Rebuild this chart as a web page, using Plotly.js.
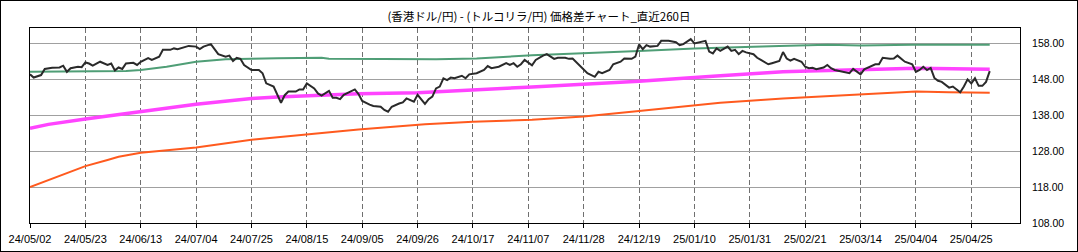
<!DOCTYPE html>
<html><head><meta charset="utf-8">
<script src="https://cdn.plot.ly/plotly-3.0.1.min.js"></script>
<style>
html,body{margin:0;padding:0;background:#fff;}
#wrap{position:absolute;left:0;top:0;width:1076px;height:250px;border:1px solid #000;background:#fff;}
#chart{width:1076px;height:250px;}
</style></head>
<body><div id="wrap"><div id="chart"></div></div>
<script>
// Trading-day index (0 = 24/05/02) and values
const tickIdx = [0,15,30,45,60,75,90,105,120,135,150,165,180,195,210,225,240,255];
const tickLabels = ["24/05/02","24/05/23","24/06/13","24/07/04","24/07/25","24/08/15","24/09/05","24/09/26","24/10/17","24/11/07","24/11/28","24/12/19","25/01/10","25/01/31","25/02/21","25/03/14","25/04/04","25/04/25"];
const yTicks = [108,118,128,138,148,158];

const priceX = [0,1,3,4,6,8,9,10,11,13,14,15,16,17,19,21,22,23,24,25,26,28,29,30,32,33,35,36,38,39,40,42,43,45,46,47,49,51,53,54,55,56,57,58,60,62,63,64,66,68,69,70,72,73,74,75,77,78,79,81,82,83,84,85,87,88,89,90,92,93,95,96,97,98,100,101,102,104,105,107,108,109,110,111,112,113,114,115,117,118,119,121,123,124,125,127,129,130,131,132,133,134,136,137,139,140,142,143,145,146,147,148,150,151,153,154,155,157,158,160,161,163,164,165,166,167,168,170,171,173,175,176,177,179,180,181,183,184,185,186,187,189,190,191,192,193,194,196,197,198,200,201,203,204,205,206,207,209,210,211,212,213,215,216,217,218,220,221,222,223,225,226,227,229,230,231,233,234,235,236,237,239,240,241,242,243,244,245,246,247,248,249,250,251,252,253,254,255,256,257,258,259,260];
const priceY = [149.3,148.4,149.1,150.8,151.1,151.2,151.7,150.0,151.0,151.4,151.3,152.6,152.3,151.7,152.8,151.9,152.3,150.4,151.2,150.8,152.3,152.5,151.9,152.8,153.8,153.3,154.2,156.1,156.1,156.5,156.3,157.0,157.2,157.0,156.3,157.0,157.7,154.9,154.2,154.5,153.0,153.9,153.6,151.9,150.5,150.5,149.6,146.8,145.9,141.4,143.5,144.5,144.5,145.1,145.1,146.8,145.4,144.0,143.4,144.7,142.8,142.8,142.4,143.6,144.7,145.1,143.8,141.9,140.9,140.5,140.3,139.4,138.9,140.3,141.2,141.5,142.6,141.7,143.6,141.1,142.4,143.1,145.4,145.9,148.2,147.7,148.4,148.2,148.9,148.2,149.3,149.6,150.5,151.6,151.0,151.4,152.4,151.9,152.4,151.4,152.1,153.3,151.8,153.3,154.5,154.9,153.6,153.9,153.9,153.6,153.7,152.6,150.7,149.6,148.6,150.0,149.6,150.5,152.1,152.8,153.7,153.6,154.2,157.6,156.3,157.4,157.0,157.2,158.6,158.6,158.2,157.4,157.7,159.1,157.9,158.2,158.6,155.6,155.1,156.5,155.8,157.0,155.8,156.1,154.9,155.8,155.4,154.9,153.9,153.3,152.1,152.4,153.0,155.5,153.7,153.1,153.6,152.8,151.4,151.0,151.1,150.7,151.2,151.9,151.0,150.5,150.0,149.9,149.6,150.8,149.3,150.7,151.2,152.1,152.1,153.9,153.6,153.7,154.5,153.6,152.8,152.1,150.0,150.5,151.4,150.5,151.1,148.3,147.5,147.2,146.5,145.6,145.9,145.2,144.3,145.9,147.9,146.8,148.2,146.1,146.1,147.2,150.2];

const greenX = [0,26,30,37,45,53,67,79,81,101,105,110,121,136,165,180,203,216,225,239,260];
const greenY = [150.0,150.2,150.5,151.4,152.8,153.5,153.8,153.9,153.6,153.6,153.4,153.5,153.7,154.6,155.8,156.5,157.2,157.5,157.3,157.5,157.5];

const magentaX = [0,5,15,30,45,60,67,89,105,136,165,187,204,211,236,240,260];
const magentaY = [134.3,135.4,136.9,138.9,141.0,142.6,143.0,143.9,144.2,145.8,147.4,148.9,150.0,150.2,151.0,151.0,150.7];

const orangeX = [0,5,10,15,21,24,30,45,60,75,89,107,120,136,150,165,180,187,204,225,240,249,260];
const orangeY = [118.0,119.9,121.8,123.8,125.5,126.4,127.5,129.0,131.1,132.6,134.0,135.4,136.1,136.7,137.6,139.1,140.8,141.4,142.6,143.8,144.5,144.3,144.2];

const traces = [
  {x: orangeX, y: orangeY, type:'scatter', mode:'lines', line:{color:'#ff5a1e', width:2}, hoverinfo:'skip'},
  {x: magentaX, y: magentaY, type:'scatter', mode:'lines', line:{color:'#ff44ff', width:3.5}, hoverinfo:'skip'},
  {x: greenX, y: greenY, type:'scatter', mode:'lines', line:{color:'#4f9e76', width:2}, hoverinfo:'skip'},
  {x: priceX, y: priceY, type:'scatter', mode:'lines', line:{color:'#2a2a2a', width:2}, hoverinfo:'skip'}
];

const layout = {
  width:1076, height:250,
  margin:{l:29, r:57, t:27, b:28, pad:0},
  paper_bgcolor:'#fff', plot_bgcolor:'#fff',
  showlegend:false,
  title:{text:'(香港ドル/円) - (トルコリラ/円) 価格差チャート_直近260日', x:0.5, xanchor:'center', y:0.935, yanchor:'middle', yref:'container',
         font:{family:'Noto Sans CJK JP', size:11.5, color:'#000'}},
  xaxis:{range:[0,268.2], tickmode:'array', tickvals:tickIdx, ticktext:tickLabels,
         showgrid:true, gridcolor:'#707070', gridwidth:1, griddash:'5px,3px',
         showline:true, linecolor:'#000', linewidth:1, mirror:true,
         ticks:'outside', ticklen:4, tickcolor:'#000', tickwidth:1, ticklabelstandoff:2,
         tickfont:{family:'Liberation Sans', size:11, color:'#000'}, zeroline:false, fixedrange:true},
  yaxis:{range:[108,162.17], side:'right', tickmode:'array', tickvals:yTicks, ticktext:yTicks.map(v=>v.toFixed(2)),
         showgrid:true, gridcolor:'#a0a0a0', gridwidth:1,
         showline:true, linecolor:'#000', linewidth:1, mirror:true,
         ticks:'', ticklabelstandoff:9,
         tickfont:{family:'Liberation Sans', size:10.5, color:'#000'}, zeroline:false, fixedrange:true}
};

Plotly.newPlot('chart', traces, layout, {staticPlot:true, displayModeBar:false});
</script></body></html>
